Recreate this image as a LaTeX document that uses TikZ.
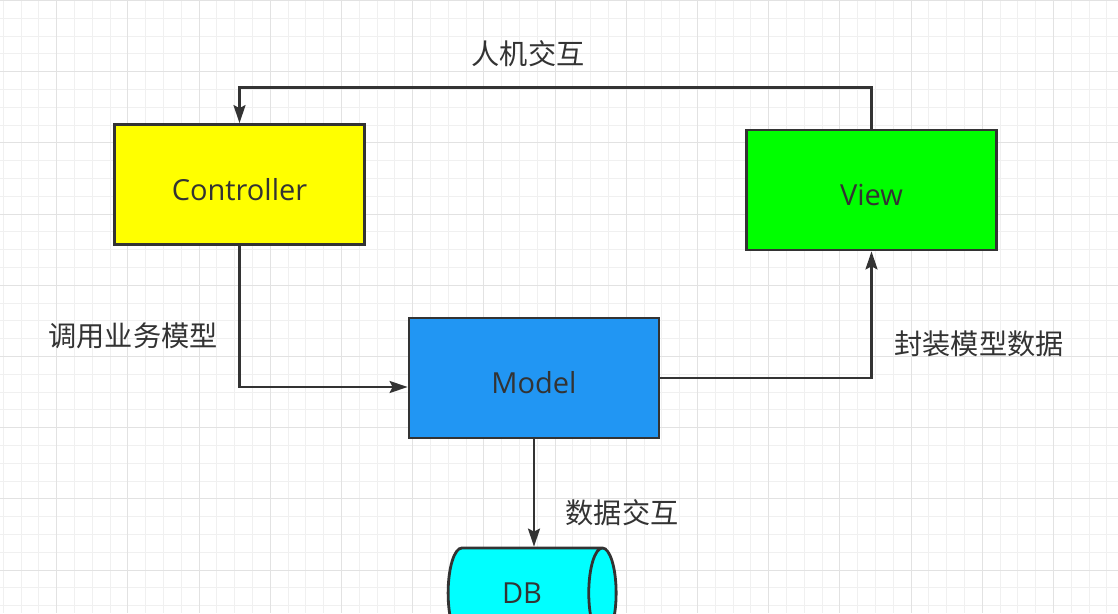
\documentclass[tikz,border=0pt]{standalone}
\usepackage{fontspec}
\setmainfont{Open Sans}
\newfontfamily\cjk{Noto Sans CJK SC}
\usetikzlibrary{arrows.meta,shapes.geometric}
\definecolor{ctrlyellow}{HTML}{FFFF00}
\definecolor{viewgreen}{HTML}{00FF00}
\definecolor{modelblue}{HTML}{2196F3}
\definecolor{dbcyan}{HTML}{00FFFF}
\definecolor{linegray}{HTML}{333333}
\definecolor{gridminor}{HTML}{F0F0F0}
\definecolor{gridmajor}{HTML}{E2E2E2}

\begin{document}
\begin{tikzpicture}[x=1pt,y=-1pt]
        \tikzstyle{every node}=[text=linegray]
        \tikzstyle{box}=[draw=linegray, line width=2.8pt, minimum width=250pt, minimum height=120pt, text height=31pt, text depth=0pt, font=\fontsize{29}{34}\selectfont]
        \tikzstyle{lbl}=[font=\cjk\fontsize{28.2}{32}\selectfont]
        \tikzstyle{wire}=[draw=linegray, line width=2.4pt, -{Stealth[length=18pt,width=12pt,inset=3pt]}]
        \useasboundingbox (0,0) rectangle (1118,613);
        \clip (0,0) rectangle (1118,613);
        % grid paper
        \fill[white] (0,0) rectangle (1118,613);
        \foreach \gx in {0,...,63} \draw[gridminor, line width=1pt] ({3.3+17.8*\gx},0) -- ++(0,613);
        \foreach \gy in {0,...,35} \draw[gridminor, line width=1pt] (0,{0.5+17.8*\gy}) -- ++(1118,0);
        \foreach \gx in {0,...,15} \draw[gridmajor, line width=1pt] ({56.7+71.2*\gx},0) -- ++(0,613);
        \foreach \gy in {0,...,8} \draw[gridmajor, line width=1pt] (0,{0.5+71.2*\gy}) -- ++(1118,0);
        % blocks
        \node[box, fill=ctrlyellow] (ctrl) at (239.5,184.5) {Controller};
        \node[box, fill=viewgreen] (view) at (871.5,190) {View};
        \node[box, fill=modelblue] (model) at (534,378) {Model};
        \node[shape=cylinder, aspect=1.0, draw=linegray, line width=2.8pt, fill=dbcyan, minimum width=90pt, minimum height=168pt, font=\fontsize{29}{34}\selectfont] (db) at (522,593) {DB};
        % connectors
        \draw[wire] (view.north) -- ++(0,-41) -| (ctrl.north);
        \draw[wire] (ctrl.south) |- ([yshift=-9pt]model.west);
        \draw[wire] (model.east) -| (view.south);
        \draw[wire] (model.south) -- (model.south |- db.north);
        % labels
        \node[lbl] (lhci) at (528,54) {人机交互};
        \node[lbl] (lcall) at (133,336) {调用业务模型};
        \node[lbl] (lwrap) at (979,344) {封装模型数据};
        \node[lbl] (ldata) at (622,513) {数据交互};
\end{tikzpicture}
\end{document}
